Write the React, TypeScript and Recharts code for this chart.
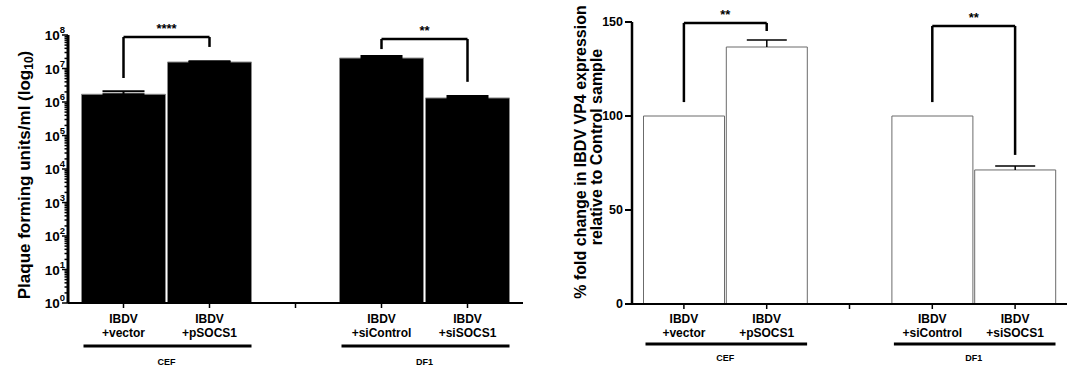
import React from 'react';
import { BarChart, Bar, XAxis, YAxis, ErrorBar, ReferenceLine, Label } from 'recharts';

const FONT = '"Liberation Sans", Arial, Helvetica, sans-serif';

// Categories (middle one is an empty spacer category)
const categories = ['vector', 'pSOCS1', 'gap', 'siControl', 'siSOCS1'];
const labelLine1 = ['IBDV', 'IBDV', '', 'IBDV', 'IBDV'];
const labelLine2 = ['+vector', '+pSOCS1', '', '+siControl', '+siSOCS1'];
const groupNames = ['CEF', 'DF1'];
const groupStartIndex = [0, 3];

// Left panel: plaque forming units/ml
const pfuValues = [1.7e6, 1.56e7, null, 2.05e7, 1.32e6];
const pfuErrors = [4.0e5, 1.0e6, null, 3.0e6, 1.8e5];

// Right panel: % fold change in VP4 expression
const vp4Values = [100, 136.7, null, 100, 71.3];
const vp4Errors = [null, 3.7, null, null, 2.1];

// Tick labels
const logDecades = [1, 10, 100, 1e3, 1e4, 1e5, 1e6, 1e7, 1e8];
const logMinorMultipliers = [2, 3, 4, 5, 6, 7, 8, 9];
const linearTicks = [0, 50, 100, 150];

// Significance brackets
const pfuBrackets = [
  { from: 'vector', to: 'pSOCS1', top: 8.7e7, fromEnd: 5.2e6, toEnd: 4.4e7, text: '****' },
  { from: 'siControl', to: 'siSOCS1', top: 7.6e7, fromEnd: 3.8e7, toEnd: 4.0e6, text: '**' },
];
const vp4Brackets = [
  { from: 'vector', to: 'pSOCS1', top: 149.5, fromEnd: 107.4, toEnd: 145.2, text: '**' },
  { from: 'siControl', to: 'siSOCS1', top: 147.9, fromEnd: 107.4, toEnd: 79.3, text: '**' },
];

const logTicks: number[] = [];
logDecades.forEach((d, i) => {
  logTicks.push(d);
  if (i < logDecades.length - 1) logMinorMultipliers.forEach((m) => logTicks.push(d * m));
});

const pfuData = categories.map((c, i) => ({
  cat: c,
  pfu: pfuValues[i],
  pfuErr: pfuErrors[i] == null ? null : [0, pfuErrors[i]],
}));

const vp4Data = categories.map((c, i) => ({
  cat: c,
  vp4: vp4Values[i],
  vp4Err: vp4Errors[i],
}));

const LogTick = (props: any) => {
  const { x, y, payload } = props;
  const v = payload.value;
  const exp = Math.log10(v);
  const isMajor = Math.abs(exp - Math.round(exp)) < 1e-6;
  return (
    <g>
      <line x1={x} x2={x - (isMajor ? 6 : 3.5)} y1={y} y2={y} stroke="#000" strokeWidth={1.5} />
      {isMajor && (
        <text x={x - 3} y={y + 5} textAnchor="end" fontFamily={FONT} fontWeight="bold" fontSize={13.5} fill="#000">
          10
          <tspan dy={-7} fontSize={9.5}>{Math.round(exp)}</tspan>
        </text>
      )}
    </g>
  );
};

const makeCatTick = (cfg: { l1: number; l2: number; line: number; group: number }) => (props: any) => {
  const { x, y, payload } = props;
  const axisY = y - 7;
  const i = categories.indexOf(payload.value);
  const off = payload.offset ?? 42;
  const g = groupStartIndex.indexOf(i);
  return (
    <g>
      <text textAnchor="middle" fontFamily={FONT} fontWeight="bold" fontSize={12} fill="#000">
        <tspan x={x} y={axisY + cfg.l1}>{labelLine1[i]}</tspan>
        <tspan x={x} y={axisY + cfg.l2}>{labelLine2[i]}</tspan>
      </text>
      {g >= 0 && (
        <g>
          <line x1={x - off + 3} x2={x + 3 * off - 1} y1={axisY + cfg.line} y2={axisY + cfg.line} stroke="#000" strokeWidth={3} />
          <text x={x + off} y={axisY + cfg.group} textAnchor="middle" fontFamily={FONT} fontWeight="bold" fontSize={9} fill="#000">
            {groupNames[g]}
          </text>
        </g>
      )}
    </g>
  );
};

const PfuTick = makeCatTick({ l1: 20, l2: 34, line: 43, group: 62 });
const Vp4Tick = makeCatTick({ l1: 19, l2: 33, line: 40, group: 57 });

const Whisker = (props: any) => {
  const { x, y, width, height } = props;
  if (x == null || y == null || !height || Math.abs(height) < 0.5) return <g />;
  const cx = x + width / 2;
  const top = Math.min(y, y + height);
  const bottom = Math.max(y, y + height);
  return (
    <g>
      <line x1={cx} x2={cx} y1={top} y2={bottom} stroke="#000" strokeWidth={1.5} />
      <line x1={cx - 20} x2={cx + 20} y1={top} y2={top} stroke="#000" strokeWidth={1.5} />
    </g>
  );
};

const renderBrackets = (list: any[], prefix: string) =>
  list.flatMap((b, k) => [
    <ReferenceLine
      key={`${prefix}-${k}-a`}
      segment={[{ x: b.from, y: b.fromEnd }, { x: b.from, y: b.top }]}
      stroke="#000"
      strokeWidth={2.5}
      ifOverflow="visible"
    />,
    <ReferenceLine
      key={`${prefix}-${k}-b`}
      segment={[{ x: b.from, y: b.top }, { x: b.to, y: b.top }]}
      stroke="#000"
      strokeWidth={2.5}
      ifOverflow="visible"
      label={{ value: b.text, position: 'top', offset: 4, fill: '#000', fontSize: 13, fontWeight: 'bold', fontFamily: FONT }}
    />,
    <ReferenceLine
      key={`${prefix}-${k}-c`}
      segment={[{ x: b.to, y: b.top }, { x: b.to, y: b.toEnd }]}
      stroke="#000"
      strokeWidth={2.5}
      ifOverflow="visible"
    />,
  ]);

const PfuYLabel = (props: any) => {
  const vb = props.viewBox || { x: 0, y: 35, width: 68, height: 268 };
  const cx = vb.x + 24;
  const cy = vb.y + vb.height / 2 + 6;
  return (
    <text x={cx} y={cy} transform={`rotate(-90, ${cx}, ${cy})`} textAnchor="middle" dominantBaseline="central" fontFamily={FONT} fontWeight="bold" fontSize={17} fill="#000">
      Plaque forming units/ml (log
      <tspan dy={5} fontSize={12}>10</tspan>
      <tspan dy={-5}>)</tspan>
    </text>
  );
};

const Vp4YLabel = (props: any) => {
  const vb = props.viewBox || { x: 0, y: 22, width: 92, height: 282 };
  const mid = vb.y + vb.height / 2;
  const cy1 = mid - 11;
  const cy2 = mid - 16;
  const x1 = vb.x + 40;
  const x2 = vb.x + 56;
  return (
    <g>
      <text x={x1} y={cy1} transform={`rotate(-90, ${x1}, ${cy1})`} textAnchor="middle" dominantBaseline="central" fontFamily={FONT} fontWeight="bold" fontSize={16} fill="#000">
        % fold change in IBDV VP4 expression
      </text>
      <text x={x2} y={cy2} transform={`rotate(-90, ${x2}, ${cy2})`} textAnchor="middle" dominantBaseline="central" fontFamily={FONT} fontWeight="bold" fontSize={16} fill="#000">
        relative to Control sample
      </text>
    </g>
  );
};

export default function App() {
  return (
    <div style={{ position: 'absolute', left: 0, top: 0, width: 1072, height: 368, background: '#fff', fontFamily: FONT }}>
      <div style={{ position: 'absolute', left: 0, top: 0 }}>
        <BarChart width={540} height={368} data={pfuData} margin={{ top: 35, right: 17, bottom: 5, left: 0 }} barCategoryGap={1}>
          <XAxis
            dataKey="cat"
            height={60}
            padding={{ left: 12.5, right: 12.5 }}
            interval={0}
            tickSize={5}
            tickMargin={2}
            tickLine={{ stroke: '#000', strokeWidth: 1.5 }}
            axisLine={{ stroke: '#000', strokeWidth: 2 }}
            tick={PfuTick}
          />
          <YAxis
            width={68}
            scale="log"
            type="number"
            domain={[1, 1e8]}
            allowDataOverflow
            ticks={logTicks}
            interval={0}
            tickSize={0}
            tickMargin={0}
            tickLine={false}
            axisLine={{ stroke: '#000', strokeWidth: 3 }}
            tick={LogTick}
          >
            <Label content={PfuYLabel} />
          </YAxis>
          <Bar dataKey="pfu" fill="#000" stroke="#8a8a8a" strokeWidth={1} isAnimationActive={false}>
            <ErrorBar dataKey="pfuErr" width={21} stroke="#000" strokeWidth={2} direction="y" />
          </Bar>
          {renderBrackets(pfuBrackets, 'pfu')}
        </BarChart>
      </div>
      <div style={{ position: 'absolute', left: 540, top: 0 }}>
        <BarChart width={532} height={368} data={vp4Data} margin={{ top: 22, right: 5, bottom: 4, left: 0 }} barCategoryGap={1}>
          <XAxis
            dataKey="cat"
            height={60}
            padding={{ left: 10.5, right: 10.5 }}
            interval={0}
            tickSize={5}
            tickMargin={2}
            tickLine={{ stroke: '#000', strokeWidth: 1.5 }}
            axisLine={{ stroke: '#000', strokeWidth: 2 }}
            tick={Vp4Tick}
          />
          <YAxis
            width={92}
            type="number"
            domain={[0, 150]}
            ticks={linearTicks}
            interval={0}
            tickSize={7}
            tickMargin={2}
            tickLine={{ stroke: '#000', strokeWidth: 2 }}
            axisLine={{ stroke: '#000', strokeWidth: 2.5 }}
            tick={{ fill: '#000', fontSize: 12.5, fontWeight: 'bold', fontFamily: FONT }}
          >
            <Label content={Vp4YLabel} />
          </YAxis>
          <Bar dataKey="vp4" stackId="s" fill="#fff" stroke="#6b6b6b" strokeWidth={1} isAnimationActive={false} />
          <Bar dataKey="vp4Err" stackId="s" fill="none" isAnimationActive={false} shape={Whisker} />
          {renderBrackets(vp4Brackets, 'vp4')}
        </BarChart>
      </div>
    </div>
  );
}
